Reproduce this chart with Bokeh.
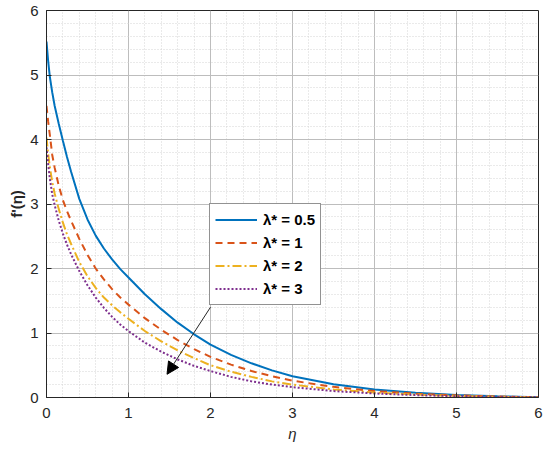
from bokeh.plotting import figure
from bokeh.models import (SingleIntervalTicker, Legend, LegendItem, Arrow, NormalHead,
                          Range1d)
from bokeh.embed import file_html
from bokeh.resources import INLINE

eta = [0.0, 0.02, 0.04, 0.07, 0.1, 0.15, 0.2, 0.25, 0.3, 0.4, 0.5, 0.6, 0.7, 0.8, 0.9, 1.0,
       1.2, 1.4, 1.6, 1.8, 2.0, 2.25, 2.5, 2.75, 3.0, 3.5, 4.0, 4.5, 5.0, 5.5, 6.0]
f_05 = [5.52, 5.22, 4.98, 4.73, 4.52, 4.24, 3.98, 3.73, 3.50, 3.08, 2.76, 2.51, 2.31, 2.14, 1.99, 1.86,
        1.60, 1.37, 1.16, 0.98, 0.82, 0.66, 0.53, 0.42, 0.33, 0.205, 0.125, 0.073, 0.04, 0.018, 0.005]
f_1 = [4.52, 4.28, 4.08, 3.76, 3.56, 3.28, 3.06, 2.89, 2.74, 2.46, 2.21, 2.00, 1.83, 1.68, 1.55, 1.44,
       1.23, 1.05, 0.89, 0.75, 0.63, 0.51, 0.41, 0.33, 0.26, 0.165, 0.10, 0.06, 0.033, 0.015, 0.004]
f_2 = [4.03, 3.78, 3.58, 3.34, 3.16, 2.92, 2.71, 2.53, 2.38, 2.10, 1.88, 1.70, 1.55, 1.43, 1.32, 1.22,
       1.03, 0.87, 0.73, 0.61, 0.50, 0.40, 0.32, 0.25, 0.20, 0.125, 0.078, 0.046, 0.025, 0.011, 0.003]
f_3 = [3.88, 3.62, 3.40, 3.15, 2.98, 2.74, 2.54, 2.37, 2.22, 1.96, 1.74, 1.55, 1.39, 1.25, 1.13, 1.03,
       0.85, 0.71, 0.59, 0.49, 0.41, 0.32, 0.25, 0.20, 0.16, 0.10, 0.062, 0.037, 0.02, 0.009, 0.002]

labels = ["λ* = 0.5", "λ* = 1", "λ* = 2", "λ* = 3"]
series = [f_05, f_1, f_2, f_3]
colors = ["#0072BD", "#D95319", "#EDB120", "#7E2F8E"]
dashes = ["solid", "7 5", "9 3 2 3", "2 2"]

# arrow (data coords)
arrow_start = (2.0, 1.40)
arrow_end = (1.47, 0.36)

p = figure(frame_width=492, frame_height=387, output_backend="svg", toolbar_location=None,
           x_range=Range1d(0, 6), y_range=Range1d(0, 6),
           min_border_left=46, min_border_right=6, min_border_top=10, min_border_bottom=49,
           background_fill_color="white", border_fill_color="white")

tick = "#262626"
font = "Liberation Sans"
for ax in (p.xaxis[0], p.yaxis[0]):
    ax.ticker = SingleIntervalTicker(interval=1, num_minor_ticks=5)
    ax.major_tick_in = 5
    ax.major_tick_out = 0
    ax.minor_tick_in = 0
    ax.minor_tick_out = 0
    ax.axis_line_color = tick
    ax.major_tick_line_color = tick
    ax.major_label_text_font = font
    ax.major_label_text_font_size = "15px"
    ax.major_label_text_color = tick
    ax.axis_label_text_font = font
    ax.axis_label_text_color = tick

p.xaxis.major_label_standoff = 10
p.yaxis.major_label_standoff = 8
p.xaxis.axis_label = "η"
p.xaxis.axis_label_text_font_style = "italic"
p.xaxis.axis_label_text_font_size = "15px"
p.xaxis.axis_label_standoff = 4
p.yaxis.axis_label = "f'(η)"
p.yaxis.axis_label_text_font_style = "bold"
p.yaxis.axis_label_text_font_size = "15px"
p.yaxis.axis_label_standoff = 2

p.outline_line_color = tick
p.outline_line_width = 1

for g in (p.xgrid[0], p.ygrid[0]):
    g.grid_line_color = "#bdbdbd"
    g.grid_line_width = 1
    g.minor_grid_line_color = "#d4d4d4"
    g.minor_grid_line_dash = "1 2"
    g.minor_grid_line_width = 1

items = []
for lab, ys, c, d in zip(labels, series, colors, dashes):
    r = p.line(eta, ys, line_color=c, line_width=2, line_dash=d)
    items.append(LegendItem(label=lab, renderers=[r]))

legend = Legend(items=items, location=(163, 92), glyph_width=42, glyph_height=21,
                label_height=21, spacing=2, padding=5, margin=0, label_standoff=6,
                label_text_font=font, label_text_font_style="bold", label_text_font_size="15px",
                label_text_color="#000000", border_line_color=tick, border_line_width=1,
                background_fill_color="white", background_fill_alpha=1)
p.add_layout(legend, "center")

p.add_layout(Arrow(end=NormalHead(size=12, fill_color="black", line_color="black"),
                   x_start=arrow_start[0], y_start=arrow_start[1],
                   x_end=arrow_end[0], y_end=arrow_end[1],
                   line_color="#262626", line_width=1))

open("out.html", "w").write(file_html(p, INLINE))
